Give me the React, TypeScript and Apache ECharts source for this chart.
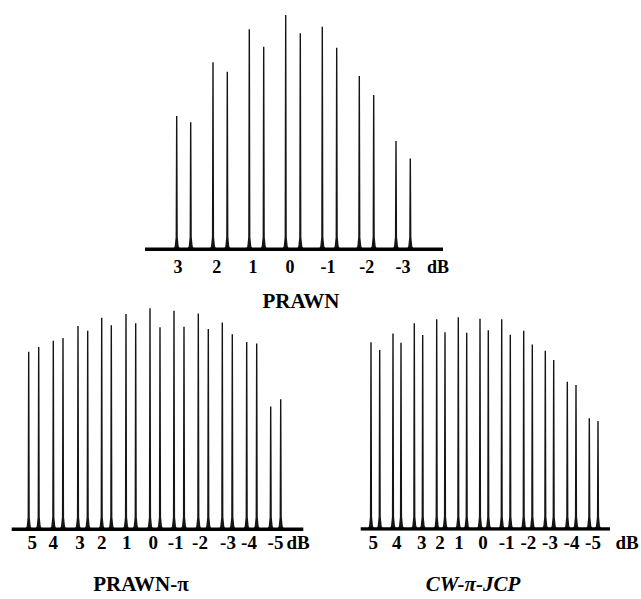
import React, { useEffect, useRef } from "react";
import * as echarts from "echarts";

// ---- PRAWN (top) ----
const topPeakPos = [31.7, 45.7, 68, 82.3, 104.3, 118.7, 140.7, 155.3, 177.3, 191.7, 214.3, 228.7, 251, 265.3];
const topPeakHeight = [0.569, 0.542, 0.798, 0.758, 0.939, 0.865, 1.0, 0.922, 0.95, 0.86, 0.74, 0.659, 0.462, 0.388];
const topLabelPos = [33, 71.7, 108, 145, 183, 221.7, 258, 293];
const topLabels = ["3", "2", "1", "0", "-1", "-2", "-3", "dB"];
const topSpan = 298;

// ---- PRAWN-π (bottom left) ----
const leftPeakPos = [17, 27, 41.6, 51.3, 66.3, 76, 90, 99.6, 114.3, 124, 138.3, 148.3, 162.3, 172.3, 186.6, 196.6, 210.6, 220.6, 235, 245, 259, 269];
const leftPeakHeight = [0.803, 0.825, 0.853, 0.866, 0.92, 0.898, 0.957, 0.923, 0.974, 0.932, 1.0, 0.914, 0.989, 0.916, 0.977, 0.906, 0.936, 0.883, 0.848, 0.841, 0.556, 0.589];
const leftLabelPos = [20.6, 41.6, 68.3, 90, 115, 141.6, 164, 188.3, 216.3, 237.3, 263.8, 286.3];
const leftLabels = ["5", "4", "3", "2", "1", "0", "-1", "-2", "-3", "-4", "-5", "dB"];
const leftSpan = 291.6;

// ---- CW-π-JCP (bottom right) ----
const rightPeakPos = [10.3, 19, 32.3, 40.3, 53.6, 62, 76, 84.3, 97.6, 106, 119.3, 127.6, 141, 149.6, 163, 171.6, 184.6, 193, 206.6, 215.3, 228.6, 237.3];
const rightPeakHeight = [0.882, 0.846, 0.924, 0.88, 0.972, 0.916, 0.991, 0.929, 1.0, 0.927, 0.993, 0.939, 0.991, 0.918, 0.937, 0.872, 0.842, 0.798, 0.696, 0.68, 0.523, 0.51];
const rightLabelPos = [12.6, 36, 61, 79.3, 98.3, 122.3, 146, 167.6, 189.3, 210.8, 232.3, 266.3];
const rightLabels = ["5", "4", "3", "2", "1", "0", "-1", "-2", "-3", "-4", "-5", "dB"];
const rightSpan = 249.3;

const titles = ["PRAWN", "PRAWN-π", "CW-π-JCP"];

const SERIF = "'Liberation Serif', 'Times New Roman', serif";

function renderPeak(params: any, api: any) {
  const x = api.value(0);
  const h = api.value(1);
  const top = api.coord([x, h]);
  const base = api.coord([x, 0]);
  const cx = top[0];
  const ty = top[1];
  const by = base[1];
  return {
    type: "polygon",
    shape: {
      points: [
        [cx - 3.4, by],
        [cx - 2.0, by - 3],
        [cx - 1.1, by - 12],
        [cx - 0.7, ty],
        [cx + 0.7, ty],
        [cx + 1.1, by - 12],
        [cx + 2.0, by - 3],
        [cx + 3.4, by],
      ],
    },
    style: { fill: "#151515" },
  };
}

function xAxisFor(idx: number, max: number, pos: number[], labels: string[], fontSize: number, margin: number) {
  return {
    type: "value",
    gridIndex: idx,
    min: 0,
    max,
    axisLine: { show: false },
    axisTick: { show: false },
    splitLine: { show: false },
    axisLabel: {
      customValues: pos,
      margin,
      fontFamily: SERIF,
      fontWeight: "bold",
      fontSize,
      color: "#000",
      formatter: (v: number) => {
        const i = pos.indexOf(v);
        return i >= 0 ? labels[i] : "";
      },
    },
  };
}

function yAxisFor(idx: number) {
  return { type: "value", gridIndex: idx, min: 0, max: 1, show: false };
}

function seriesFor(idx: number, pos: number[], heights: number[], span: number) {
  return [
    {
      type: "line",
      xAxisIndex: idx,
      yAxisIndex: idx,
      data: [
        [0, 0],
        [span, 0],
      ],
      symbol: "none",
      lineStyle: { color: "#000", width: 3.5 },
      z: 3,
    },
    {
      type: "custom",
      xAxisIndex: idx,
      yAxisIndex: idx,
      data: pos.map((p, i) => [p, heights[i]]),
      renderItem: renderPeak,
      z: 2,
    },
  ];
}

export default function App() {
  const ref = useRef<HTMLDivElement>(null);
  useEffect(() => {
    document.body.style.margin = "0";
    if (!ref.current) return;
    const chart = echarts.init(ref.current, null, { renderer: "svg" });
    chart.setOption({
      animation: false,
      backgroundColor: "#fff",
      grid: [
        { left: 145, width: 298, top: 15, height: 234.3, outerBoundsMode: "none", containLabel: false },
        { left: 11.7, width: 291.6, top: 308.3, height: 221, outerBoundsMode: "none", containLabel: false },
        { left: 360.7, width: 275, top: 317.3, height: 211.7, outerBoundsMode: "none", containLabel: false },
      ],
      xAxis: [
        xAxisFor(0, topSpan, topLabelPos, topLabels, 18, 9),
        xAxisFor(1, leftSpan, leftLabelPos, leftLabels, 19, 4),
        xAxisFor(2, 275, rightLabelPos, rightLabels, 19, 4),
      ],
      yAxis: [yAxisFor(0), yAxisFor(1), yAxisFor(2)],
      series: [
        ...seriesFor(0, topPeakPos, topPeakHeight, topSpan),
        ...seriesFor(1, leftPeakPos, leftPeakHeight, leftSpan),
        ...seriesFor(2, rightPeakPos, rightPeakHeight, rightSpan),
      ],
      graphic: [
        {
          type: "text",
          x: 301,
          y: 300.5,
          style: {
            text: titles[0],
            font: `bold 21px ${SERIF}`,
            fill: "#000",
            align: "center",
            verticalAlign: "middle",
          },
        },
        {
          type: "text",
          x: 141,
          y: 584,
          style: {
            text: titles[1],
            font: `bold 21px ${SERIF}`,
            fill: "#000",
            align: "center",
            verticalAlign: "middle",
          },
        },
        {
          type: "text",
          x: 473,
          y: 584,
          style: {
            text: titles[2],
            font: `italic bold 21px ${SERIF}`,
            fill: "#000",
            align: "center",
            verticalAlign: "middle",
          },
        },
      ],
    });
    return () => chart.dispose();
  }, []);
  return <div ref={ref} style={{ width: 641, height: 599 }} />;
}
